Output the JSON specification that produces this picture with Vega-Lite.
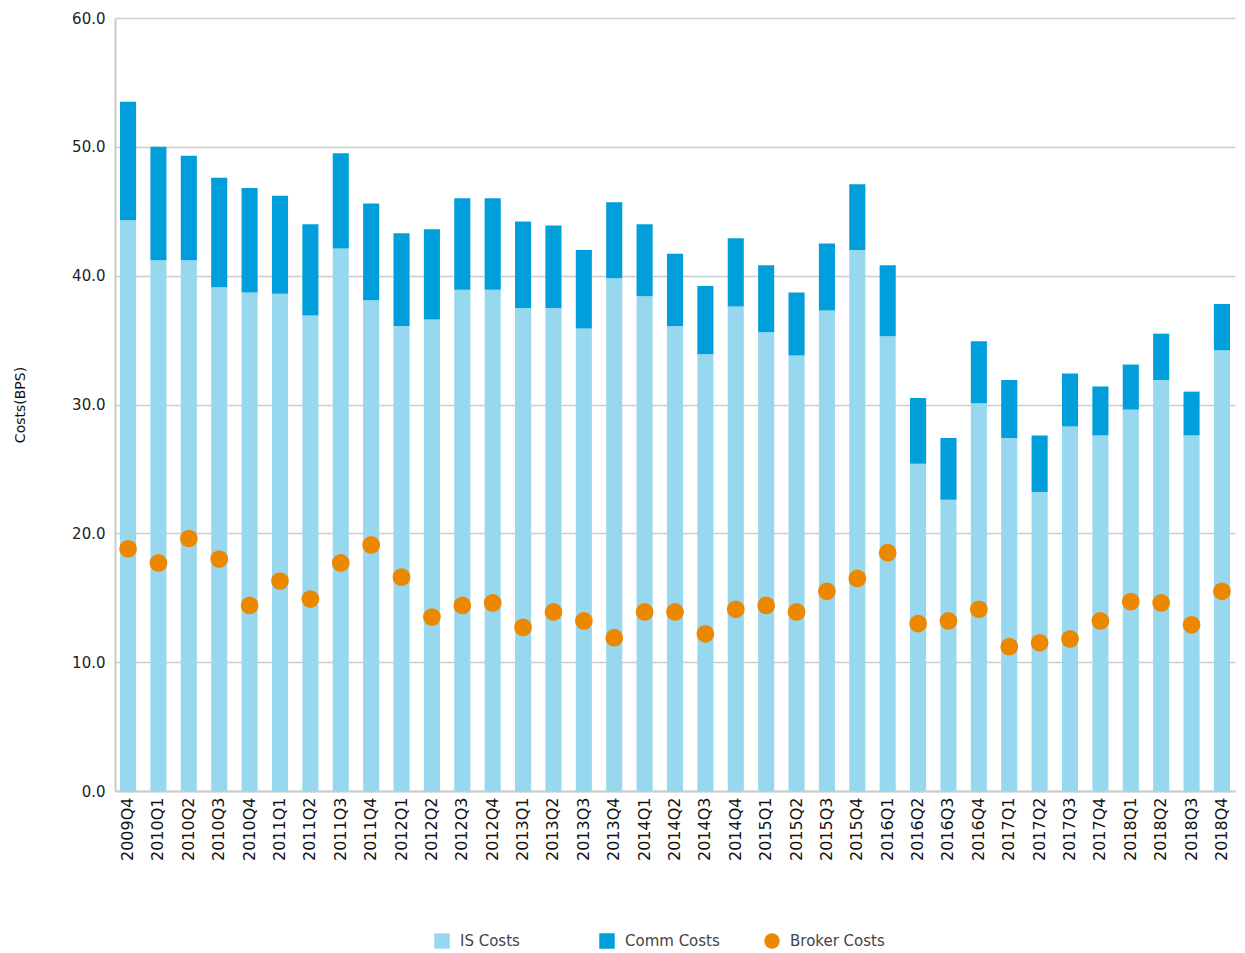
{
  "$schema": "https://vega.github.io/schema/vega-lite/v6.json",
  "width": 1120,
  "height": 773,
  "autosize": {"type": "none"},
  "padding": {"left": 115, "top": 18, "right": 10, "bottom": 162},
  "background": "white",
  "config": {
    "view": {"stroke": null},
    "font": "DejaVu Sans",
    "axis": {"labelFont": "DejaVu Sans", "titleFont": "DejaVu Sans"}
  },
  "datasets": {
    "bars": [
      {"quarter": "2009Q4", "series": "IS Costs", "value": 44.3}, {"quarter": "2009Q4", "series": "Comm Costs", "value": 9.2},
      {"quarter": "2010Q1", "series": "IS Costs", "value": 41.2}, {"quarter": "2010Q1", "series": "Comm Costs", "value": 8.8},
      {"quarter": "2010Q2", "series": "IS Costs", "value": 41.2}, {"quarter": "2010Q2", "series": "Comm Costs", "value": 8.1},
      {"quarter": "2010Q3", "series": "IS Costs", "value": 39.1}, {"quarter": "2010Q3", "series": "Comm Costs", "value": 8.5},
      {"quarter": "2010Q4", "series": "IS Costs", "value": 38.7}, {"quarter": "2010Q4", "series": "Comm Costs", "value": 8.1},
      {"quarter": "2011Q1", "series": "IS Costs", "value": 38.6}, {"quarter": "2011Q1", "series": "Comm Costs", "value": 7.6},
      {"quarter": "2011Q2", "series": "IS Costs", "value": 36.9}, {"quarter": "2011Q2", "series": "Comm Costs", "value": 7.1},
      {"quarter": "2011Q3", "series": "IS Costs", "value": 42.1}, {"quarter": "2011Q3", "series": "Comm Costs", "value": 7.4},
      {"quarter": "2011Q4", "series": "IS Costs", "value": 38.1}, {"quarter": "2011Q4", "series": "Comm Costs", "value": 7.5},
      {"quarter": "2012Q1", "series": "IS Costs", "value": 36.1}, {"quarter": "2012Q1", "series": "Comm Costs", "value": 7.2},
      {"quarter": "2012Q2", "series": "IS Costs", "value": 36.6}, {"quarter": "2012Q2", "series": "Comm Costs", "value": 7.0},
      {"quarter": "2012Q3", "series": "IS Costs", "value": 38.9}, {"quarter": "2012Q3", "series": "Comm Costs", "value": 7.1},
      {"quarter": "2012Q4", "series": "IS Costs", "value": 38.9}, {"quarter": "2012Q4", "series": "Comm Costs", "value": 7.1},
      {"quarter": "2013Q1", "series": "IS Costs", "value": 37.5}, {"quarter": "2013Q1", "series": "Comm Costs", "value": 6.7},
      {"quarter": "2013Q2", "series": "IS Costs", "value": 37.5}, {"quarter": "2013Q2", "series": "Comm Costs", "value": 6.4},
      {"quarter": "2013Q3", "series": "IS Costs", "value": 35.9}, {"quarter": "2013Q3", "series": "Comm Costs", "value": 6.1},
      {"quarter": "2013Q4", "series": "IS Costs", "value": 39.8}, {"quarter": "2013Q4", "series": "Comm Costs", "value": 5.9},
      {"quarter": "2014Q1", "series": "IS Costs", "value": 38.4}, {"quarter": "2014Q1", "series": "Comm Costs", "value": 5.6},
      {"quarter": "2014Q2", "series": "IS Costs", "value": 36.1}, {"quarter": "2014Q2", "series": "Comm Costs", "value": 5.6},
      {"quarter": "2014Q3", "series": "IS Costs", "value": 33.9}, {"quarter": "2014Q3", "series": "Comm Costs", "value": 5.3},
      {"quarter": "2014Q4", "series": "IS Costs", "value": 37.6}, {"quarter": "2014Q4", "series": "Comm Costs", "value": 5.3},
      {"quarter": "2015Q1", "series": "IS Costs", "value": 35.6}, {"quarter": "2015Q1", "series": "Comm Costs", "value": 5.2},
      {"quarter": "2015Q2", "series": "IS Costs", "value": 33.8}, {"quarter": "2015Q2", "series": "Comm Costs", "value": 4.9},
      {"quarter": "2015Q3", "series": "IS Costs", "value": 37.3}, {"quarter": "2015Q3", "series": "Comm Costs", "value": 5.2},
      {"quarter": "2015Q4", "series": "IS Costs", "value": 42.0}, {"quarter": "2015Q4", "series": "Comm Costs", "value": 5.1},
      {"quarter": "2016Q1", "series": "IS Costs", "value": 35.3}, {"quarter": "2016Q1", "series": "Comm Costs", "value": 5.5},
      {"quarter": "2016Q2", "series": "IS Costs", "value": 25.4}, {"quarter": "2016Q2", "series": "Comm Costs", "value": 5.1},
      {"quarter": "2016Q3", "series": "IS Costs", "value": 22.6}, {"quarter": "2016Q3", "series": "Comm Costs", "value": 4.8},
      {"quarter": "2016Q4", "series": "IS Costs", "value": 30.1}, {"quarter": "2016Q4", "series": "Comm Costs", "value": 4.8},
      {"quarter": "2017Q1", "series": "IS Costs", "value": 27.4}, {"quarter": "2017Q1", "series": "Comm Costs", "value": 4.5},
      {"quarter": "2017Q2", "series": "IS Costs", "value": 23.2}, {"quarter": "2017Q2", "series": "Comm Costs", "value": 4.4},
      {"quarter": "2017Q3", "series": "IS Costs", "value": 28.3}, {"quarter": "2017Q3", "series": "Comm Costs", "value": 4.1},
      {"quarter": "2017Q4", "series": "IS Costs", "value": 27.6}, {"quarter": "2017Q4", "series": "Comm Costs", "value": 3.8},
      {"quarter": "2018Q1", "series": "IS Costs", "value": 29.6}, {"quarter": "2018Q1", "series": "Comm Costs", "value": 3.5},
      {"quarter": "2018Q2", "series": "IS Costs", "value": 31.9}, {"quarter": "2018Q2", "series": "Comm Costs", "value": 3.6},
      {"quarter": "2018Q3", "series": "IS Costs", "value": 27.6}, {"quarter": "2018Q3", "series": "Comm Costs", "value": 3.4},
      {"quarter": "2018Q4", "series": "IS Costs", "value": 34.2}, {"quarter": "2018Q4", "series": "Comm Costs", "value": 3.6}
    ],
    "broker": [
      {"quarter": "2009Q4", "series": "Broker Costs", "value": 18.8},
      {"quarter": "2010Q1", "series": "Broker Costs", "value": 17.7},
      {"quarter": "2010Q2", "series": "Broker Costs", "value": 19.6},
      {"quarter": "2010Q3", "series": "Broker Costs", "value": 18.0},
      {"quarter": "2010Q4", "series": "Broker Costs", "value": 14.4},
      {"quarter": "2011Q1", "series": "Broker Costs", "value": 16.3},
      {"quarter": "2011Q2", "series": "Broker Costs", "value": 14.9},
      {"quarter": "2011Q3", "series": "Broker Costs", "value": 17.7},
      {"quarter": "2011Q4", "series": "Broker Costs", "value": 19.1},
      {"quarter": "2012Q1", "series": "Broker Costs", "value": 16.6},
      {"quarter": "2012Q2", "series": "Broker Costs", "value": 13.5},
      {"quarter": "2012Q3", "series": "Broker Costs", "value": 14.4},
      {"quarter": "2012Q4", "series": "Broker Costs", "value": 14.6},
      {"quarter": "2013Q1", "series": "Broker Costs", "value": 12.7},
      {"quarter": "2013Q2", "series": "Broker Costs", "value": 13.9},
      {"quarter": "2013Q3", "series": "Broker Costs", "value": 13.2},
      {"quarter": "2013Q4", "series": "Broker Costs", "value": 11.9},
      {"quarter": "2014Q1", "series": "Broker Costs", "value": 13.9},
      {"quarter": "2014Q2", "series": "Broker Costs", "value": 13.9},
      {"quarter": "2014Q3", "series": "Broker Costs", "value": 12.2},
      {"quarter": "2014Q4", "series": "Broker Costs", "value": 14.1},
      {"quarter": "2015Q1", "series": "Broker Costs", "value": 14.4},
      {"quarter": "2015Q2", "series": "Broker Costs", "value": 13.9},
      {"quarter": "2015Q3", "series": "Broker Costs", "value": 15.5},
      {"quarter": "2015Q4", "series": "Broker Costs", "value": 16.5},
      {"quarter": "2016Q1", "series": "Broker Costs", "value": 18.5},
      {"quarter": "2016Q2", "series": "Broker Costs", "value": 13.0},
      {"quarter": "2016Q3", "series": "Broker Costs", "value": 13.2},
      {"quarter": "2016Q4", "series": "Broker Costs", "value": 14.1},
      {"quarter": "2017Q1", "series": "Broker Costs", "value": 11.2},
      {"quarter": "2017Q2", "series": "Broker Costs", "value": 11.5},
      {"quarter": "2017Q3", "series": "Broker Costs", "value": 11.8},
      {"quarter": "2017Q4", "series": "Broker Costs", "value": 13.2},
      {"quarter": "2018Q1", "series": "Broker Costs", "value": 14.7},
      {"quarter": "2018Q2", "series": "Broker Costs", "value": 14.6},
      {"quarter": "2018Q3", "series": "Broker Costs", "value": 12.9},
      {"quarter": "2018Q4", "series": "Broker Costs", "value": 15.5}
    ]
  },
  "encoding": {
    "x": {
      "field": "quarter",
      "type": "ordinal",
      "sort": null,
      "scale": {"paddingInner": 0.47, "paddingOuter": 0.165},
      "axis": {
        "title": null,
        "labelAngle": -90,
        "labelAlign": "right",
        "labelBaseline": "middle",
        "labelFontSize": 16,
        "labelColor": "#111111",
        "labelPadding": 6,
        "ticks": false,
        "domainColor": "#cccccc",
        "domainWidth": 2,
        "grid": false
      }
    },
    "y": {
      "field": "value",
      "type": "quantitative",
      "scale": {"domain": [0, 60], "nice": false},
      "axis": {
        "title": "Costs(BPS)",
        "titleFontSize": 14,
        "titleFontWeight": "normal",
        "titleColor": "#111111",
        "titlePadding": 44,
        "values": [0, 10, 20, 30, 40, 50, 60],
        "format": ".1f",
        "labelFontSize": 15,
        "labelColor": "#222222",
        "labelPadding": 10,
        "ticks": false,
        "domainColor": "#cccccc",
        "domainWidth": 2,
        "gridColor": "#cccccc",
        "gridWidth": 1.5
      }
    }
  },
  "layer": [
    {
      "data": {"name": "bars"},
      "mark": {"type": "bar"},
      "encoding": {
        "y": {"field": "value", "type": "quantitative", "stack": "zero"},
        "order": {"field": "series", "sort": "descending"},
        "color": {
          "field": "series",
          "type": "nominal",
          "scale": {
            "domain": ["IS Costs", "Comm Costs", "Broker Costs"],
            "range": ["#98d8ef", "#009fdb", "#eb8800"]
          },
          "legend": {
            "title": null,
            "orient": "none",
            "legendX": 319,
            "legendY": 915,
            "direction": "horizontal",
            "columns": 3,
            "gridAlign": "all",
            "columnPadding": 44,
            "symbolSize": 240,
            "symbolType": "square",
            "symbolStrokeWidth": 0,
            "labelFontSize": 15,
            "labelColor": "#444444",
            "labelOffset": 10,
            "encode": {
              "symbols": {
                "update": {
                  "shape": {"signal": "datum.label === 'Broker Costs' ? 'circle' : 'square'"}
                }
              }
            }
          }
        }
      }
    },
    {
      "data": {"name": "broker"},
      "mark": {"type": "circle", "size": 314, "opacity": 1},
      "encoding": {
        "y": {"field": "value", "type": "quantitative"},
        "color": {"field": "series", "type": "nominal"}
      }
    }
  ]
}
